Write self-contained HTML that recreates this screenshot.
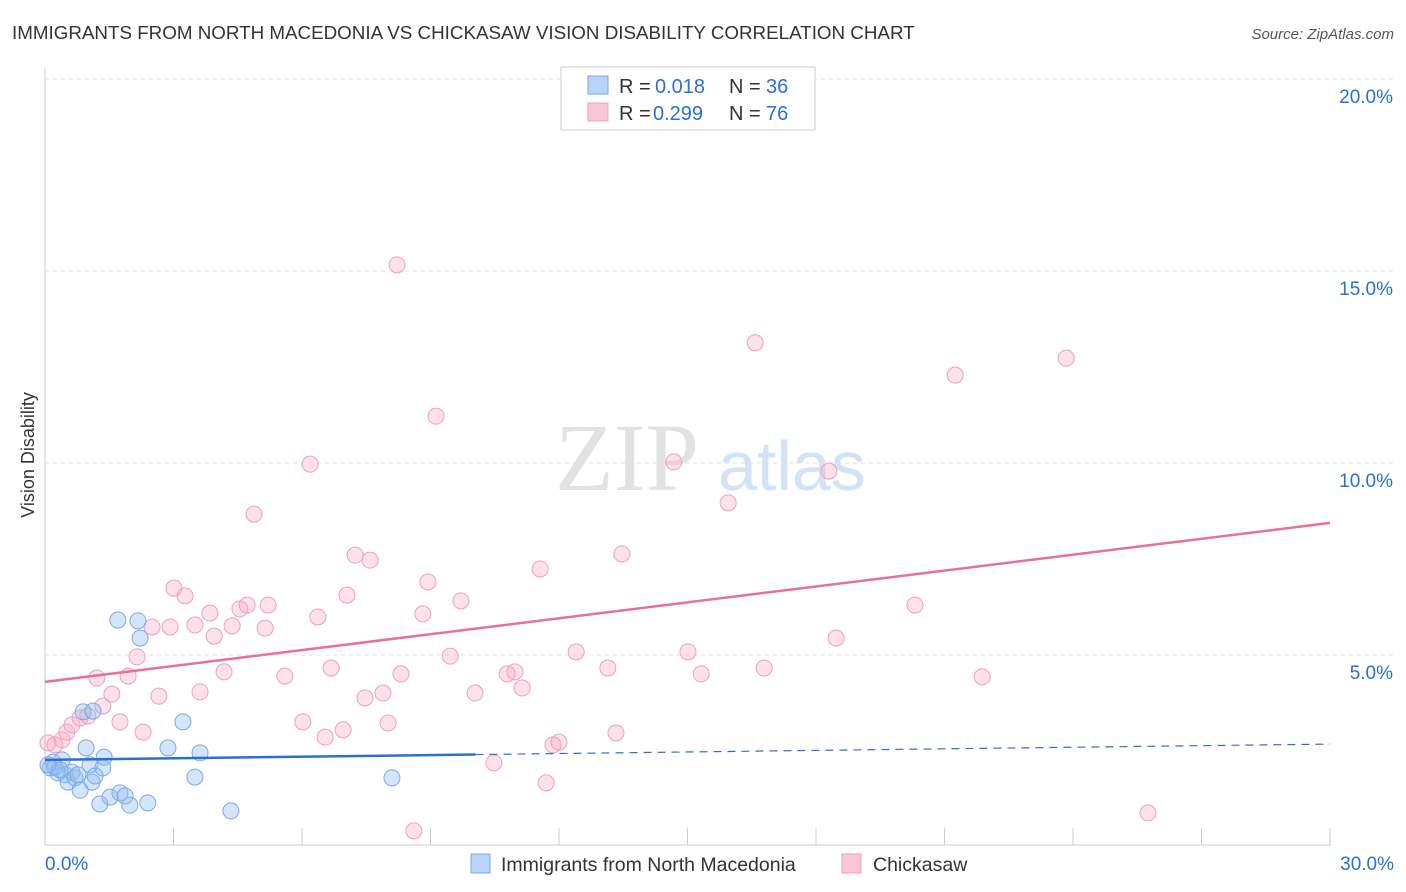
<!DOCTYPE html>
<html><head><meta charset="utf-8"><style>
body{margin:0;background:#fff;font-family:"Liberation Sans",sans-serif;}
#wrap{position:relative;width:1406px;height:892px;overflow:hidden;}
</style></head><body>
<div id="wrap">
<svg id="svg" width="1406" height="892">
<text x="12" y="39" font-size="18.8" fill="#333">IMMIGRANTS FROM NORTH MACEDONIA VS CHICKASAW VISION DISABILITY CORRELATION CHART</text>
<text x="1394" y="39" font-size="15" fill="#555" font-style="italic" text-anchor="end">Source: ZipAtlas.com</text>
<text x="34" y="455" font-size="18" fill="#333" transform="rotate(-90 34 455)" text-anchor="middle">Vision Disability</text>
<text x="555" y="490" font-size="96" fill="#e2e2e2" font-family="Liberation Serif,serif">ZIP</text>
<text x="718" y="490" font-size="70" fill="#d3e2f5">atlas</text>
<g id="grid"></g><g id="pts"></g><g id="trend"></g>
<g>
<rect x="561" y="67" width="254" height="63" fill="#fff" stroke="#ccc"/>
<rect x="588" y="76" width="20" height="18" fill="#b8d3f5" stroke="#7aaae8"/>
<text x="619" y="93" font-size="20" fill="#333">R =</text>
<text x="655" y="93" font-size="20" fill="#2a6fd6">0.018</text>
<text x="729" y="93" font-size="20" fill="#333">N =</text>
<text x="766" y="93" font-size="20" fill="#2a6fd6">36</text>
<rect x="588" y="103" width="20" height="18" fill="#f9c6d6" stroke="#f0a0bb"/>
<text x="619" y="120" font-size="20" fill="#333">R =</text>
<text x="653" y="120" font-size="20" fill="#2a6fd6">0.299</text>
<text x="729" y="120" font-size="20" fill="#333">N =</text>
<text x="766" y="120" font-size="20" fill="#2a6fd6">76</text>
</g>
<g>
<rect x="471" y="854" width="19" height="19" fill="#b8d3f5" stroke="#7aaae8"/>
<text x="501" y="871" font-size="19.5" fill="#333">Immigrants from North Macedonia</text>
<rect x="842" y="854" width="19" height="19" fill="#f9c6d6" stroke="#f0a0bb"/>
<text x="873" y="871" font-size="19.5" fill="#333">Chickasaw</text>
</g>
</svg></div>
<script>
const yTicks=[5,10,15,20];
const xTickCount=10;
const blueX=[0.12,0.19,0.30,0.40,0.47,0.54,0.63,0.70,0.77,0.82,0.89,0.96,1.05,1.10,1.17,1.12,1.28,1.35,1.38,1.52,1.70,1.75,1.87,1.98,2.17,2.22,2.40,2.87,3.22,3.50,3.62,4.34,8.10,0.23,0.35,0.07];
const blueY=[2.06,2.21,1.93,2.27,1.88,1.69,1.95,1.80,1.88,1.48,3.52,2.58,2.14,1.69,1.85,3.54,1.12,2.06,2.34,1.30,5.91,1.41,1.33,1.09,5.89,5.44,1.15,2.58,3.26,1.82,2.45,0.94,1.80,2.08,2.01,2.14];
const pinkX=[0.07,0.23,0.40,0.51,0.63,0.82,1.00,1.21,1.35,1.56,1.75,1.94,2.15,2.29,2.50,2.66,2.92,3.01,3.27,3.50,3.62,3.85,3.95,4.18,4.37,4.55,4.72,4.88,5.14,5.21,5.60,6.02,6.19,6.37,6.54,6.68,6.96,7.05,7.24,7.47,7.59,7.89,8.01,8.22,8.31,8.61,8.82,8.94,9.13,9.46,9.71,10.04,10.48,10.79,10.97,11.14,11.56,11.70,11.86,12.00,12.40,13.14,13.33,13.47,14.68,15.01,15.32,15.95,16.58,16.79,18.30,18.47,20.31,21.25,21.88,23.84,25.75];
const pinkY=[2.71,2.66,2.79,2.99,3.18,3.36,3.41,4.40,3.67,3.98,3.26,4.45,4.95,2.99,5.73,3.93,5.73,6.74,6.54,5.78,4.04,6.09,5.49,4.56,5.76,6.20,6.30,8.67,5.70,6.30,4.45,3.26,9.97,5.99,2.86,4.66,3.05,6.56,7.60,3.88,7.47,4.01,3.23,15.16,4.51,0.42,6.07,6.90,11.22,4.97,6.41,4.01,2.19,4.51,4.56,4.14,7.24,1.67,2.66,2.73,5.08,4.66,2.97,7.63,10.03,5.08,4.51,8.96,13.13,4.66,9.79,5.44,6.30,12.29,4.43,12.73,0.89];
const pinkTrend=[4.30,8.44];
const blueTrend=[2.27,2.68];
const NS='http://www.w3.org/2000/svg';
const X=v=>45+v/30*1285, Y=v=>847-v*38.4;
function mk(t,a,p){const e=document.createElementNS(NS,t);for(const k in a)e.setAttribute(k,a[k]);p.appendChild(e);return e;}
const grid=document.getElementById('grid');
mk('line',{x1:45,y1:68,x2:45,y2:845,stroke:'#ccc'},grid);
mk('line',{x1:45,y1:845,x2:1330,y2:845,stroke:'#ccc'},grid);
yTicks.forEach(t=>{
 const l=mk('line',{x1:45,y1:Y(t),x2:1395,y2:Y(t),stroke:'#e2e2e2','stroke-dasharray':'4 4'},grid);
 
 
 const tx=mk('text',{x:1393,y:Y(t)+24,'font-size':19,fill:'#2a6fd6','text-anchor':'end'},grid);
 tx.textContent=t.toFixed(1)+'%';
 
 
});
for(let i=0;i<=xTickCount;i++){
 const v=i*3;
 const l=mk('line',{x1:X(v),y1:828,x2:X(v),y2:845,stroke:'#ccc'},grid);
 
 
}
[[0,'0.0%','start',45],[30,'30.0%','end',1394]].forEach(([v,s,a,x])=>{
 const tx=mk('text',{x:x,y:870,'font-size':19,fill:'#2a6fd6','text-anchor':a},grid);
 tx.textContent=s;
 
 
});
const pts=document.getElementById('pts');
pinkX.forEach((x,i)=>{
 const c=mk('circle',{cx:X(x),cy:Y(pinkY[i]),r:8,fill:'rgba(245,170,195,0.35)',stroke:'#f0a0bb','stroke-width':1},pts);
 
 
});
blueX.forEach((x,i)=>{
 const c=mk('circle',{cx:X(x),cy:Y(blueY[i]),r:8,fill:'rgba(150,190,240,0.4)',stroke:'#7aaae8','stroke-width':1},pts);
 
 
});
const tr=document.getElementById('trend');
const pl=mk('line',{x1:X(0),y1:Y(pinkTrend[0]),x2:X(30),y2:Y(pinkTrend[1]),stroke:'#e8709a','stroke-width':2.5},tr);


const bm=blueTrend[0]+(blueTrend[1]-blueTrend[0])*(10.05/30);
const b1=mk('line',{x1:X(0),y1:Y(blueTrend[0]),x2:X(10.05),y2:Y(bm),stroke:'#2a6fd6','stroke-width':2.5},tr);


const b2=mk('line',{x1:X(10.05),y1:Y(bm),x2:X(30),y2:Y(blueTrend[1]),stroke:'#2a6fd6','stroke-width':1.2,'stroke-dasharray':'8 6'},tr);


</script>
</body></html>
